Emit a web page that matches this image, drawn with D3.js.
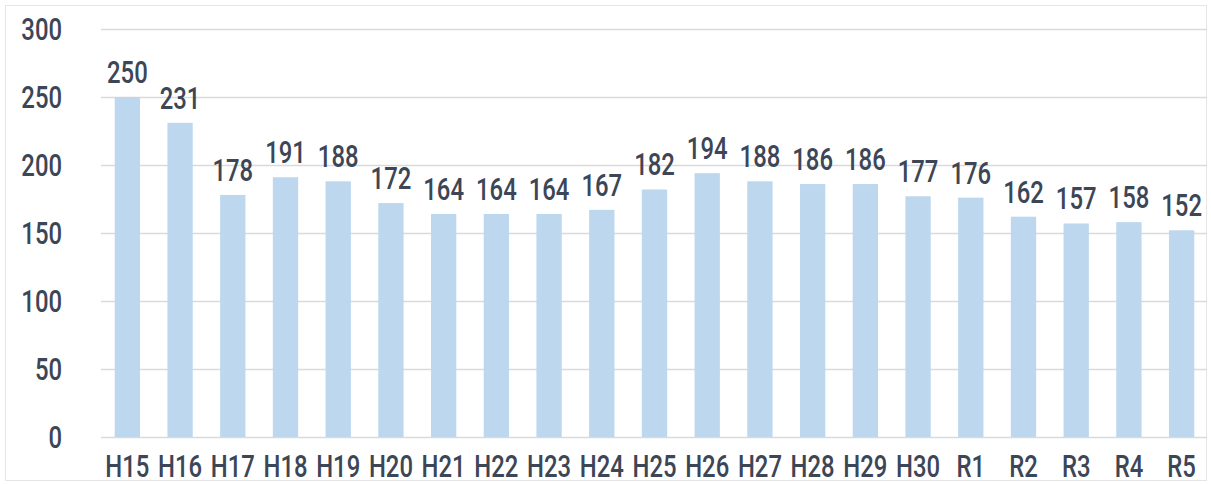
<!DOCTYPE html>
<html>
<head>
<meta charset="utf-8">
<script src="https://cdn.jsdelivr.net/npm/d3@7"></script>
<style>
  body { margin: 0; background: #fff; }
  text { font-family: Roboto, "Noto Sans", sans-serif; font-size: 31px; font-weight: 500; fill: #3c4656; }
</style>
</head>
<body>
<svg id="chart" width="1211" height="484"></svg>
<script>
// years (Heisei / Reiwa)
var years = ["H15","H16","H17","H18","H19","H20","H21","H22","H23","H24","H25",
             "H26","H27","H28","H29","H30","R1","R2","R3","R4","R5"];
var counts = [250,231,178,191,188,172,164,164,164,167,182,194,188,186,186,177,176,162,157,158,152];
var yTicks = [0,50,100,150,200,250,300];

var narrow = 0.77; // squeeze text horizontally, the original font is condensed

var svg = d3.select("#chart");

// outer frame
svg.append("rect")
    .attr("x", 5.5).attr("y", 5.5)
    .attr("width", 1201).attr("height", 475)
    .attr("fill", "none")
    .attr("stroke", "#e6e6e6");

var x = d3.scaleBand()
    .domain(years)
    .range([101, 1208])
    .paddingInner(0.52)
    .paddingOuter(0.26);

var y = d3.scaleLinear()
    .domain([0, 300])
    .range([437, 29]);

// gridlines
svg.append("g")
    .selectAll("line")
    .data(yTicks)
    .join("line")
    .attr("x1", 101).attr("x2", 1207)
    .attr("y1", d => y(d) + 0.5).attr("y2", d => y(d) + 0.5)
    .attr("stroke", "#dadada")
    .attr("stroke-width", 1.5);

// y labels
svg.append("g")
    .selectAll("text")
    .data(yTicks)
    .join("text")
    .attr("transform", d => `translate(62,${y(d)}) scale(${narrow},1)`)
    .attr("dy", "0.36em")
    .attr("text-anchor", "end")
    .text(d => d);

// bars
svg.append("g")
    .selectAll("rect")
    .data(counts)
    .join("rect")
    .attr("x", (d, i) => x(years[i]))
    .attr("width", x.bandwidth())
    .attr("y", d => y(d))
    .attr("height", d => y(0) - y(d))
    .attr("fill", "#bdd7ee");

// value labels
svg.append("g")
    .selectAll("text")
    .data(counts)
    .join("text")
    .attr("transform", (d, i) => `translate(${x(years[i]) + x.bandwidth() / 2},${y(d) - 14}) scale(${narrow},1)`)
    .attr("text-anchor", "middle")
    .text(d => d);

// x labels
svg.append("g")
    .selectAll("text")
    .data(years)
    .join("text")
    .attr("transform", d => `translate(${x(d) + x.bandwidth() / 2},477) scale(${narrow},1)`)
    .attr("text-anchor", "middle")
    .text(d => d);
</script>
</body>
</html>
